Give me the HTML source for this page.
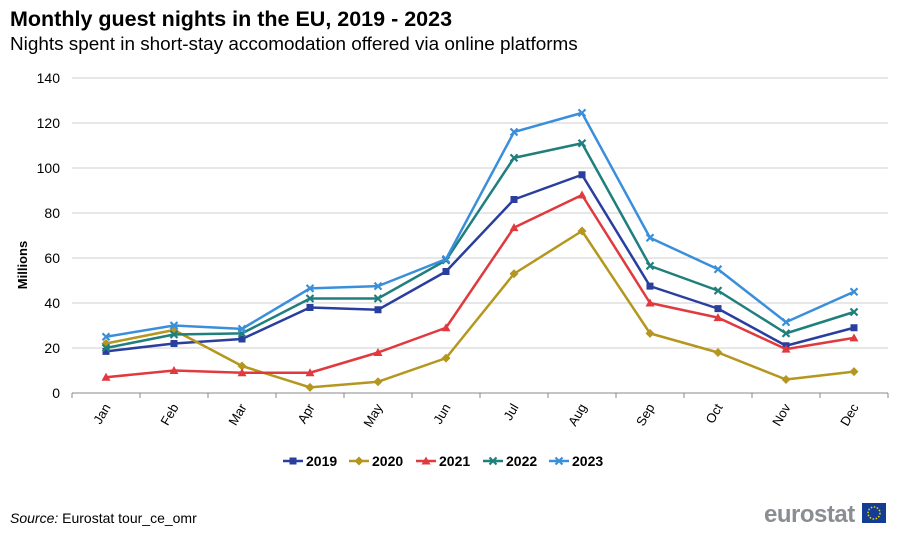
<!DOCTYPE html>
<html><head><meta charset="utf-8"><style>
body{margin:0;background:#fff;font-family:"Liberation Sans",sans-serif}
svg{display:block}
</style></head><body>
<svg id="c" width="900" height="533" viewBox="0 0 900 533" xmlns="http://www.w3.org/2000/svg" font-family="Liberation Sans, sans-serif">
<text x="10" y="26" font-size="21.5" font-weight="bold" fill="#000">Monthly guest nights in the EU, 2019 - 2023</text>
<text x="10" y="50" font-size="18.9" fill="#000">Nights spent in short-stay accomodation offered via online platforms</text>
<text transform="translate(27,265) rotate(-90)" text-anchor="middle" font-size="13" font-weight="bold">Millions</text>
<g id="grid"></g><g id="series"></g><g id="legend"></g>
<text x="10" y="523" font-size="14"><tspan font-style="italic">Source:</tspan> Eurostat tour_ce_omr</text>
<g>
<text x="764" y="522" font-size="24" font-weight="bold" fill="#8a8d92" letter-spacing="-0.5">eurostat</text>
<rect x="862" y="503" width="24" height="20" fill="#123d92"/>
<circle cx="874" cy="513" r="6" fill="none" stroke="#f5d000" stroke-width="1.5" stroke-dasharray="1.5 1.6"/>
</g>
</svg>
<script>
const months=["Jan","Feb","Mar","Apr","May","Jun","Jul","Aug","Sep","Oct","Nov","Dec"];
const yTicks=[0,20,40,60,80,100,120,140];
const years=["2019","2020","2021","2022","2023"];
const s2019=[18.5,22,24,38,37,54,86,97,47.5,37.5,21,29];
const s2020=[22,28,12,2.5,5,15.5,53,72,26.5,18,6,9.5];
const s2021=[7,10,9,9,18,29,73.5,88,40,33.5,19.5,24.5];
const s2022=[20,26,26.5,42,42,59,104.5,111,56.5,45.5,26.5,36];
const s2023=[25,30,28.5,46.5,47.5,59.5,116,124.5,69,55,31.5,45];
const colors=["#2a3e9e","#b5961e","#e0393e","#1f7f7d","#3a8fdb"];
const markers=["square","diamond","triangle","x","x"];
const ns="http://www.w3.org/2000/svg";
const X0=72,X1=888,Y0=393,Y1=78;
const xs=i=>X0+(X1-X0)/12*(i+0.5);
const ys=v=>Y0-(v/140)*(Y0-Y1);
function mk(t,a,p){const e=document.createElementNS(ns,t);for(const k in a)e.setAttribute(k,a[k]);p.appendChild(e);return e;}
const g=document.getElementById('grid');
yTicks.forEach(v=>{
 if(v>0){const l=mk('line',{x1:X0,x2:X1,y1:ys(v),y2:ys(v),stroke:'#cfcfcf','stroke-width':1},g);
 
 }
 const t=mk('text',{x:60,y:ys(v)+5,'text-anchor':'end','font-size':14},g);t.textContent=v;
 
 
});
const ax=mk('line',{x1:X0,x2:X1,y1:Y0,y2:Y0,stroke:'#888','stroke-width':1},g);


for(let i=0;i<=12;i++){const x=X0+(X1-X0)/12*i;mk('line',{x1:x,x2:x,y1:Y0,y2:Y0+5,stroke:'#888'},g);}
months.forEach((m,i)=>{const t=mk('text',{transform:`translate(${xs(i)+5},${Y0+14}) rotate(-60)`,'text-anchor':'end','font-size':13},g);t.textContent=m;
 
 });
function marker(type,x,y,c,p){
 if(type==='square')return mk('rect',{x:x-3.5,y:y-3.5,width:7,height:7,fill:c},p);
 if(type==='diamond')return mk('polygon',{points:`${x},${y-4.5} ${x+4.5},${y} ${x},${y+4.5} ${x-4.5},${y}`,fill:c},p);
 if(type==='triangle')return mk('polygon',{points:`${x},${y-4.5} ${x+4.5},${y+3.5} ${x-4.5},${y+3.5}`,fill:c},p);
 return mk('path',{d:`M${x-3.5},${y-3.5}L${x+3.5},${y+3.5}M${x+3.5},${y-3.5}L${x-3.5},${y+3.5}`,stroke:c,'stroke-width':2.2},p);
}
const data=[s2019,s2020,s2021,s2022,s2023];
const sg=document.getElementById('series');
data.forEach((d,k)=>{
 const gg=mk('g',{},sg);
 
 
 mk('polyline',{points:d.map((v,i)=>xs(i)+','+ys(v)).join(' '),fill:'none',stroke:colors[k],'stroke-width':2.5,'stroke-linejoin':'round'},gg);
 d.forEach((v,i)=>{const m=marker(markers[k],xs(i),ys(v),colors[k],gg);
  
  });
});
const lg=document.getElementById('legend');
const lx=[283,349,416,483,549];
years.forEach((yr,k)=>{
 const e=mk('g',{},lg);
 
 
 mk('line',{x1:lx[k],x2:lx[k]+20,y1:461,y2:461,stroke:colors[k],'stroke-width':2.5},e);
 marker(markers[k],lx[k]+10,461,colors[k],e);
 const t=mk('text',{x:lx[k]+23,y:466,'font-size':14,'font-weight':'bold'},e);t.textContent=yr;
});
</script>
</body></html>
